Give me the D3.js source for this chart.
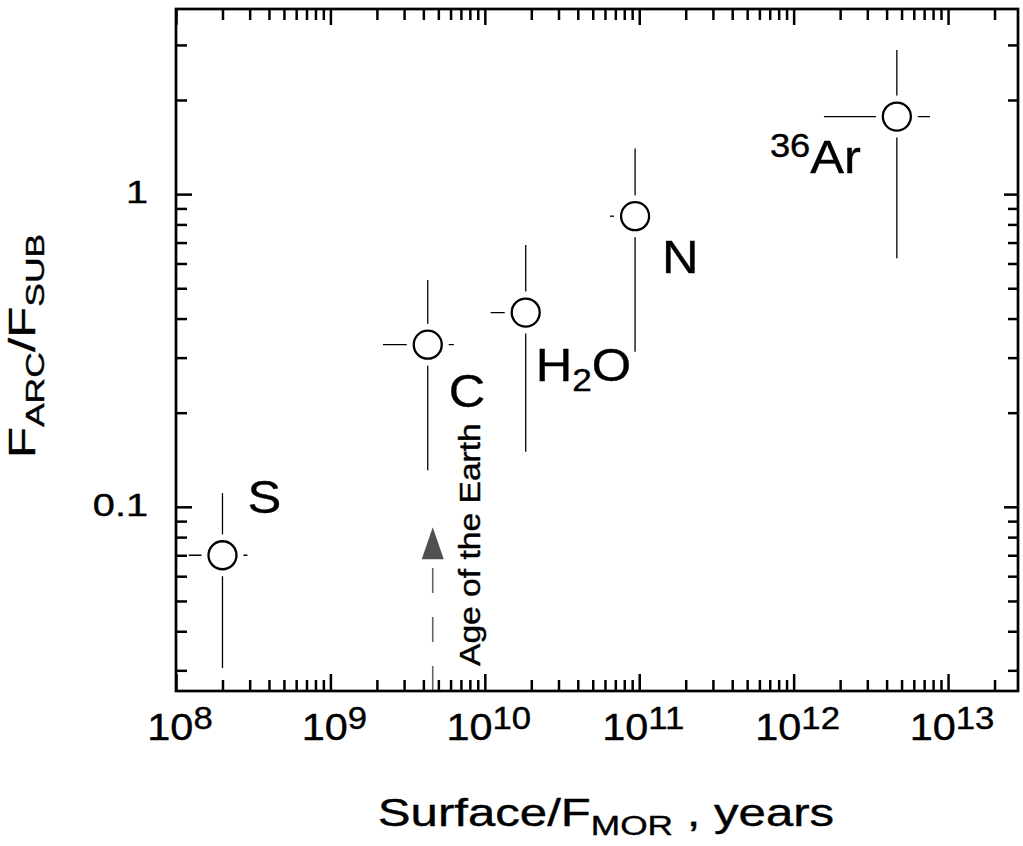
<!DOCTYPE html>
<html>
<head>
<meta charset="utf-8">
<script src="https://cdn.jsdelivr.net/npm/d3@7"></script>
<style>
body { margin: 0; background: #fff; }
svg text { font-family: "Liberation Sans", Arial, Helvetica, sans-serif; fill: #000; }
</style>
</head>
<body>
<svg id="canvas"></svg>
<script>
// data
let species = ['S', 'C', 'H2O', 'N', '36Ar'];
let ageValues = [2.0e8, 4.27e9, 1.84e10, 9.4e10, 4.66e12];
let ageLow = [1.21e8, 2.19e9, 1.09e10, 6.47e10, 1.57e12];
let ageHigh = [2.9e8, 6.3e9, 1.84e10, 9.4e10, 7.64e12];
let ratioValues = [0.070, 0.33, 0.418, 0.85, 1.77];
let ratioLow = [0.0305, 0.131, 0.150, 0.313, 0.624];
let ratioHigh = [0.1106, 0.531, 0.687, 1.40, 2.89];

let earthAge = 4.6e9;
let earthArrowTip = 0.086;

let xTickExponents = [8, 9, 10, 11, 12, 13];
let yTickValues = [0.1, 1];
let yTickLabels = ['0.1', '1'];

// label layout: pixel offsets from each point
let labelOffsets = [[25, -42], [21, 62], [10, 68], [27, 57], [-36, 56]];

let width = 1023;
let height = 846;
let plot = { left: 176, right: 1018, top: 9, bottom: 691 };

let canvas = d3.select('#canvas');
canvas.attr('width', width).attr('height', height);

let xScale = d3.scaleLog().domain([1e8, Math.pow(10, 13.453)]).range([plot.left, plot.right]);
let yScale = d3.scaleLog().domain([Math.pow(10, -1.589), Math.pow(10, 0.592)]).range([plot.bottom, plot.top]);

// rich text helper: parts = [[text, 'sub'|'sup'|null, size]]
let addText = (x, y, parts, opts) => {
	let g = canvas.append('g')
		.attr('transform', `translate(${x},${y}) rotate(${opts.rotate || 0}) scale(${opts.stretch || 1},1)`);
	let text = g.append('text')
		.attr('text-anchor', opts.anchor || 'start')
		.attr('font-size', opts.size)
		.attr('stroke', '#000').attr('stroke-width', 0.4);
	let shift = 0;
	parts.forEach(p => {
		let target = p[1] === 'sub' ? opts.subShift : p[1] === 'sup' ? -opts.supShift : 0;
		text.append('tspan')
			.attr('dy', target - shift)
			.attr('font-size', p[2] || opts.size)
			.text(p[0]);
		shift = target;
	});
	return text;
};

let minorTicks = (lo, hi) => {
	let out = [];
	for (let e = lo; e <= hi; e++) {
		for (let m = 2; m <= 9; m++) out.push(m * Math.pow(10, e));
	}
	return out;
};

let drawAxes = () => {
	let xMajor = xTickExponents.map(e => Math.pow(10, e));
	let xMinor = minorTicks(8, 13).filter(v => xScale(v) < plot.right - 2);
	let yMajor = yTickValues;
	let yMinor = minorTicks(-2, 0).filter(v => v > yScale.domain()[0] && v < yScale.domain()[1]);

	let setups = [
		[d3.axisBottom, `translate(0,${plot.bottom})`, xScale, xMajor, -17],
		[d3.axisBottom, `translate(0,${plot.bottom})`, xScale, xMinor, -11],
		[d3.axisTop, `translate(0,${plot.top})`, xScale, xMajor, -16],
		[d3.axisTop, `translate(0,${plot.top})`, xScale, xMinor, -11],
		[d3.axisLeft, `translate(${plot.left},0)`, yScale, yMajor, -16],
		[d3.axisLeft, `translate(${plot.left},0)`, yScale, yMinor, -11],
		[d3.axisRight, `translate(${plot.right},0)`, yScale, yMajor, -14],
		[d3.axisRight, `translate(${plot.right},0)`, yScale, yMinor, -10]
	];
	setups.forEach(s => {
		let axis = s[0](s[2]).tickValues(s[3]).tickSize(s[4]).tickFormat('');
		let g = canvas.append('g').attr('transform', s[1]).call(axis);
		g.select('.domain').remove();
		g.selectAll('line').attr('stroke', '#000').attr('stroke-width', 2.5);
	});

	// frame
	canvas.append('rect')
		.attr('x', plot.left).attr('y', plot.top)
		.attr('width', plot.right - plot.left).attr('height', plot.bottom - plot.top)
		.attr('fill', 'none').attr('stroke', '#000').attr('stroke-width', 2.7);

	// x tick labels
	xTickExponents.forEach(e => {
		addText(xScale(Math.pow(10, e)) + 4, 740, [['10'], [String(e), 'sup', 31]],
			{ size: 37, anchor: 'middle', stretch: 1.12, supShift: 11 });
	});
	// y tick labels
	yTickValues.forEach((v, i) => {
		addText(148, yScale(v) + 9, [[yTickLabels[i]]], { size: 31, anchor: 'end', stretch: 1.28 });
	});

	// axis titles
	addText(35, 346, [['F'], ['ARC', 'sub', 25], ['/'], ['F'], ['SUB', 'sub', 25]],
		{ size: 36, anchor: 'middle', rotate: -90, stretch: 1.42, subShift: 9 });
	addText(606, 826, [['Surface/F'], ['MOR', 'sub', 28], [' , years']],
		{ size: 39, anchor: 'middle', stretch: 1.26, subShift: 9 });
};

let drawEarthAge = () => {
	let x = xScale(earthAge);
	let tip = yScale(earthArrowTip);
	canvas.append('line')
		.attr('x1', x).attr('x2', x)
		.attr('y1', plot.bottom).attr('y2', tip + 36)
		.attr('stroke', '#666').attr('stroke-width', 1.6)
		.attr('stroke-dasharray', '25,24');
	canvas.append('path')
		.attr('d', d3.line()([[x, tip], [x - 11, tip + 32], [x + 11, tip + 32]]) + 'Z')
		.attr('fill', '#505050');
	addText(x + 47, 666, [['Age of the Earth']], { size: 30, rotate: -90, stretch: 1.12 });
};

let drawPoints = () => {
	species.forEach((name, i) => {
		let cx = xScale(ageValues[i]);
		let cy = yScale(ratioValues[i]);
		let g = canvas.append('g');
		g.append('line')
			.attr('x1', cx).attr('x2', cx)
			.attr('y1', yScale(ratioLow[i])).attr('y2', yScale(ratioHigh[i]))
			.attr('stroke', '#000').attr('stroke-width', 1.3);
		g.append('line')
			.attr('x1', xScale(ageLow[i])).attr('x2', xScale(ageHigh[i]))
			.attr('y1', cy).attr('y2', cy)
			.attr('stroke', '#000').attr('stroke-width', 1.3);
		// white halo leaves the gap round the marker
		g.append('circle').attr('cx', cx).attr('cy', cy).attr('r', 14)
			.attr('fill', '#fff').attr('stroke', '#fff').attr('stroke-width', 14);
		g.append('circle').attr('cx', cx).attr('cy', cy).attr('r', 14)
			.attr('fill', '#fff').attr('stroke', '#000').attr('stroke-width', 2.3);
	});
};

let drawLabels = () => {
	let style = { size: 46, stretch: 1.1, subShift: 10, supShift: 16 };
	let parts = [
		[['S']],
		[['C']],
		[['H'], ['2', 'sub', 32], ['O']],
		[['N']],
		[['36', 'sup', 33], ['Ar']]
	];
	species.forEach((name, i) => {
		let o = labelOffsets[i];
		addText(xScale(ageValues[i]) + o[0], yScale(ratioValues[i]) + o[1], parts[i],
			Object.assign({}, style, { anchor: o[0] < 0 ? 'end' : 'start' }));
	});
};

drawEarthAge();
drawPoints();
drawAxes();
drawLabels();
</script>
</body>
</html>
